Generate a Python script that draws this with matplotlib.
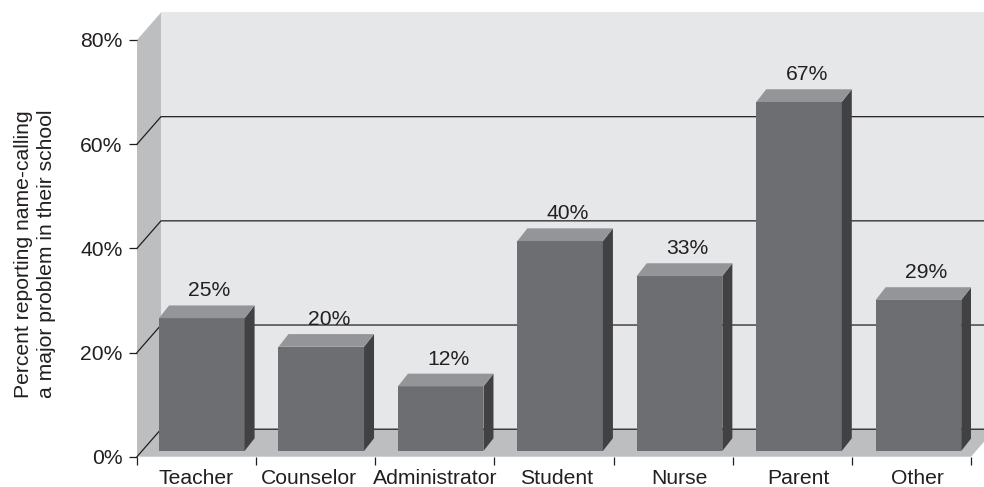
import numpy as np
import matplotlib
matplotlib.use("Agg")
import matplotlib.pyplot as plt

categories = ["Teacher", "Counselor", "Administrator", "Student", "Nurse", "Parent", "Other"]
values = [25.5, 20.0, 12.4, 40.3, 33.6, 67.0, 29.0]
value_labels = ["25%", "20%", "12%", "40%", "33%", "67%", "29%"]
y_ticks = [0, 20, 40, 60, 80]
y_labels = ["0%", "20%", "40%", "60%", "80%"]

W, H = 984, 487
INK = "#231f20"
FRONT, TOP, SIDE = "#6d6e71", "#939598", "#414042"
WALL, BACK = "#bcbec0", "#e6e7e8"

plt.rcParams["font.family"] = ["Liberation Sans", "DejaVu Sans"]
plt.rcParams["font.size"] = 15.2
plt.rcParams["text.color"] = INK

fig = plt.figure(figsize=(W/100, H/100), dpi=100)
ax = fig.add_axes([137/W, 1 - 456.7/H, (971 - 137)/W, (456.7 - 40)/H])
ax.set_xlim(0, len(categories))
ax.set_ylim(0, 80)
ax.patch.set_visible(False)
for s in ax.spines.values():
    s.set_visible(False)

# depth of the box and of the bars, in data units
dx, dy = 0.2014, 5.28
bar_dx, bar_dy = 0.084, 2.44
bar_x0, bar_step, bar_base, bar_w = 0.185, 1.0025, 1.1, 0.718
xmax = len(categories)

# category labels are not quite centred between the ticks in the original
label_pos = [0.495, 1.443, 2.502, 3.525, 4.549, 5.548, 6.547]

# box: back wall, side wall, floor
ax.fill([dx, xmax + dx, xmax + dx, dx], [dy, dy, 80 + dy, 80 + dy],
        color=BACK, lw=0, clip_on=False, zorder=1)
ax.fill([0, dx, dx, 0], [0, dy, 80 + dy, 80], color=WALL, lw=0, clip_on=False, zorder=1)
ax.fill([0, xmax, xmax + dx, dx], [0, 0, dy, dy], color=WALL, lw=0, clip_on=False, zorder=1)

# grid lines run up the side wall then along the back
for t in y_ticks[:-1]:
    ax.plot([0, dx, xmax + dx], [t, t + dy, t + dy], color=INK, lw=0.9,
            clip_on=False, zorder=2)

x = bar_x0 + np.arange(len(categories))*bar_step
ax.bar(x, values, width=bar_w, bottom=bar_base, align="edge", color=FRONT, lw=0, zorder=3)
for xi, v, lab in zip(x, values, value_labels):
    top = bar_base + v
    ax.fill([xi + bar_w, xi + bar_w + bar_dx, xi + bar_w + bar_dx, xi + bar_w],
            [bar_base, bar_base + bar_dy, top + bar_dy, top], color=SIDE, lw=0, zorder=3)
    ax.fill([xi, xi + bar_w, xi + bar_w + bar_dx, xi + bar_dx],
            [top, top, top + bar_dy, top + bar_dy], color=TOP, lw=0, zorder=3)
    ax.text(xi + bar_w/2 + 0.065, top + bar_dy + 2.8, lab, ha="center", va="center", zorder=4)

ax.set_yticks(y_ticks)
ax.set_yticklabels(y_labels)
ax.tick_params(axis="y", length=5.8, width=0.9, color=INK, pad=4.5, labelcolor=INK)
ax.set_xticks(np.arange(len(categories) + 1))
ax.set_xticklabels([])
ax.tick_params(axis="x", which="major", length=6, width=0.9, color=INK)
ax.set_xticks(label_pos, minor=True)
ax.set_xticklabels(categories, minor=True)
ax.tick_params(axis="x", which="minor", length=0, pad=8.5, labelcolor=INK)

fig.text(35/W, 1 - 254/H, "Percent reporting name-calling\na major problem in their school",
         rotation=90, ha="center", va="center", linespacing=1.3, fontsize=15.2)

fig.savefig("out.png", dpi=100)
